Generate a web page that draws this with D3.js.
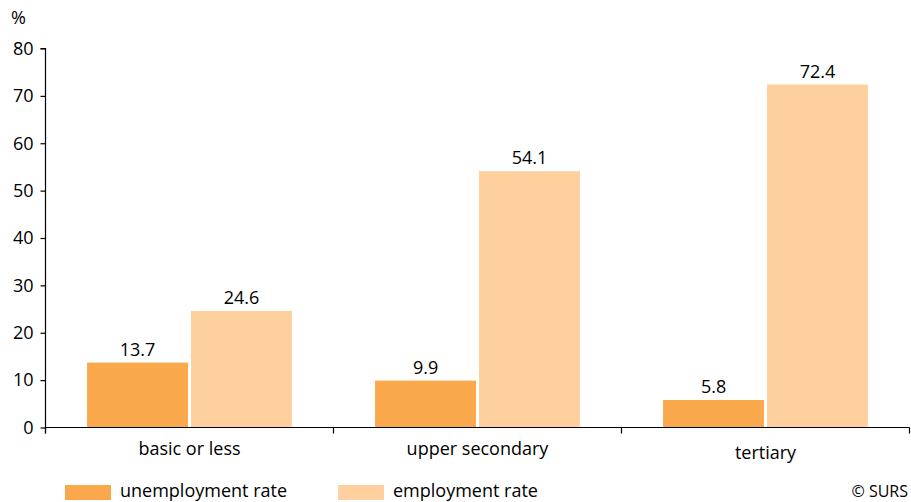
<!DOCTYPE html>
<html><head><meta charset="utf-8">
<script src="https://cdn.jsdelivr.net/npm/d3@7"></script>
<style>
body{margin:0;background:#fff;}
svg text{font-family:"Open Sans",sans-serif;fill:#000;}
</style></head>
<body><svg id="c" width="911" height="502"></svg>
<script>
const categories = ["basic or less", "upper secondary", "tertiary"];
const seriesNames = ["unemployment rate", "employment rate"];
const unemployment = [13.7, 9.9, 5.8];
const employment = [24.6, 54.1, 72.4];
const yTicks = [0, 10, 20, 30, 40, 50, 60, 70, 80];
const colors = ["#F9A84B", "#FDD09E"];

const svg = d3.select("#c");
const x0 = d3.scaleBand().domain(categories).range([45.5, 909.5]).padding(0);
const x1 = d3.scaleBand().domain(seriesNames).range([0, x0.bandwidth()]).paddingInner(0.029).paddingOuter(0.4);
const y = d3.scaleLinear().domain([0, 80]).range([427.5, 48.5]);

const data = categories.map((c, i) => ({cat: c, vals: [unemployment[i], employment[i]]}));

const g = svg.append("g");
data.forEach(d => {
  d.vals.forEach((v, j) => {
    const xx = x0(d.cat) + x1(seriesNames[j]);
    g.append("rect").attr("x", xx).attr("y", y(v)).attr("width", x1.bandwidth()).attr("height", y(0) - y(v)).attr("fill", colors[j]);
    g.append("text").attr("x", xx + x1.bandwidth() / 2).attr("y", y(v) - 7).attr("text-anchor", "middle").style("font-size", "18px").text(v.toFixed(1));
  });
});

// y axis
const yAxis = d3.axisLeft(y).tickValues(yTicks).tickSize(5).tickPadding(7).tickSizeOuter(0);
const ya = svg.append("g").attr("transform", "translate(45.5,0)").call(yAxis);
ya.select(".domain").attr("stroke", "#000").attr("stroke-width", 1.2).attr("d", `M-5,${y(80)}H0V${y(0)+6}`);
ya.selectAll(".tick line").attr("stroke", "#000").attr("stroke-width", 1.2);
ya.selectAll(".tick text").style("font-size", "18px").attr("font-family", null);

// x axis
const xa = svg.append("g").attr("transform", `translate(0,${y(0)})`);
xa.append("line").attr("x1", 45.5).attr("x2", 909.5).attr("stroke", "#000").attr("stroke-width", 1.2);
const bounds = categories.map(c => x0(c)).concat([x0(categories[categories.length - 1]) + x0.bandwidth()]);
xa.selectAll("line.t").data(bounds).enter().append("line").attr("class", "t")
  .attr("x1", d => d).attr("x2", d => d).attr("y1", 0).attr("y2", 6).attr("stroke", "#000").attr("stroke-width", 1.2);
xa.selectAll("text").data(categories).enter().append("text")
  .attr("x", d => x0(d) + x0.bandwidth() / 2).attr("y", (d, i) => i === 2 ? 31 : 27)
  .attr("text-anchor", "middle").style("font-size", "18px").text(d => d);

svg.append("text").attr("x", 11).attr("y", 24).style("font-size", "18px").text("%");

// legend
const legX = [65, 338];
seriesNames.forEach((s, j) => {
  svg.append("rect").attr("x", legX[j]).attr("y", 485).attr("width", 46).attr("height", 15).attr("fill", colors[j]);
  svg.append("text").attr("x", legX[j] + 55).attr("y", 496.5).style("font-size", "18px").text(s);
});
svg.append("text").attr("x", 908).attr("y", 497).attr("text-anchor", "end").style("font-size", "16px").text("© SURS");
</script></body></html>
